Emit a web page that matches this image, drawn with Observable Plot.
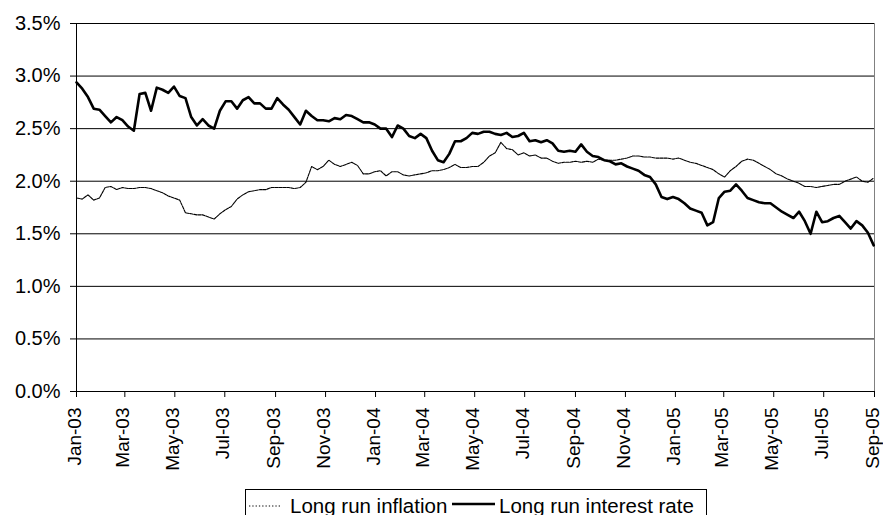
<!DOCTYPE html>
<html>
<head>
<meta charset="utf-8">
<script src="https://cdn.jsdelivr.net/npm/d3@7"></script>
<script src="https://cdn.jsdelivr.net/npm/@observablehq/plot@0.6"></script>
<style>
  body { margin: 0; background: #fff; font-family: "Liberation Sans", Arial, sans-serif; }
  #wrap { position: relative; width: 883px; height: 515px; overflow: hidden; }
  #legend { position: absolute; left: 245px; top: 489px; }
</style>
</head>
<body>
<div id="wrap">
  <div id="chart"></div>
  <svg id="legend" width="462" height="40"></svg>
</div>
<script>
// Weekly readings, first observation 2003-01-01, one every 7 days
const startDate = "2003-01-01";
const stepDays = 7;

// Long run inflation (%)
const inflation = [
  1.84, 1.83, 1.87, 1.82, 1.84, 1.94, 1.95, 1.92, 1.94, 1.93,
  1.93, 1.94, 1.94, 1.93, 1.91, 1.89, 1.86, 1.84, 1.82, 1.70,
  1.69, 1.68, 1.68, 1.66, 1.64, 1.69, 1.73, 1.76, 1.83, 1.87,
  1.90, 1.91, 1.92, 1.92, 1.94, 1.94, 1.94, 1.94, 1.93, 1.94,
  1.99, 2.14, 2.11, 2.14, 2.20, 2.16, 2.14, 2.16, 2.18, 2.15,
  2.07, 2.07, 2.09, 2.10, 2.05, 2.09, 2.09, 2.06, 2.05, 2.06,
  2.07, 2.08, 2.10, 2.10, 2.11, 2.13, 2.16, 2.13, 2.13, 2.14,
  2.14, 2.18, 2.24, 2.27, 2.37, 2.31, 2.30, 2.25, 2.27, 2.24,
  2.25, 2.22, 2.22, 2.19, 2.17, 2.18, 2.18, 2.19, 2.18, 2.19,
  2.18, 2.21, 2.20, 2.20, 2.20, 2.21, 2.22, 2.24, 2.24, 2.23,
  2.23, 2.22, 2.22, 2.22, 2.21, 2.22, 2.20, 2.18, 2.17, 2.15,
  2.13, 2.11, 2.07, 2.04, 2.10, 2.14, 2.19, 2.21, 2.20, 2.17,
  2.14, 2.11, 2.07, 2.05, 2.02, 2.00, 1.98, 1.95, 1.95, 1.94,
  1.95, 1.96, 1.97, 1.97, 2.00, 2.02, 2.04, 2.00, 1.99, 2.03
];

// Long run interest rate (%)
const interest = [
  2.94, 2.88, 2.80, 2.69, 2.68, 2.62, 2.56, 2.61, 2.58, 2.52,
  2.48, 2.83, 2.84, 2.67, 2.89, 2.87, 2.84, 2.90, 2.81, 2.79,
  2.61, 2.53, 2.59, 2.53, 2.50, 2.67, 2.76, 2.76, 2.69, 2.77,
  2.80, 2.74, 2.74, 2.69, 2.69, 2.79, 2.73, 2.68, 2.61, 2.54,
  2.67, 2.62, 2.58, 2.58, 2.57, 2.60, 2.59, 2.63, 2.62, 2.59,
  2.56, 2.56, 2.54, 2.50, 2.50, 2.42, 2.53, 2.50, 2.43, 2.41,
  2.45, 2.41, 2.29, 2.20, 2.18, 2.26, 2.38, 2.38, 2.41, 2.46,
  2.45, 2.47, 2.47, 2.45, 2.44, 2.46, 2.42, 2.43, 2.46, 2.38,
  2.39, 2.37, 2.39, 2.36, 2.29, 2.28, 2.29, 2.28, 2.35, 2.28,
  2.24, 2.23, 2.20, 2.19, 2.16, 2.17, 2.14, 2.12, 2.10, 2.06,
  2.04, 1.97, 1.85, 1.83, 1.85, 1.83, 1.79, 1.74, 1.72, 1.70,
  1.58, 1.61, 1.84, 1.90, 1.91, 1.97, 1.91, 1.84, 1.82, 1.80,
  1.79, 1.79, 1.75, 1.71, 1.68, 1.65, 1.71, 1.62, 1.50, 1.71,
  1.61, 1.62, 1.65, 1.67, 1.61, 1.55, 1.62, 1.58, 1.51, 1.39
];

// x-axis tick months
const xTicks = [
  "2003-01-01", "2003-03-01", "2003-05-01", "2003-07-01", "2003-09-01",
  "2003-11-01", "2004-01-01", "2004-03-01", "2004-05-01", "2004-07-01",
  "2004-09-01", "2004-11-01", "2005-01-01", "2005-03-01", "2005-05-01",
  "2005-07-01", "2005-09-01"
];
// y-axis ticks (%)
const yTicks = [0, 0.5, 1.0, 1.5, 2.0, 2.5, 3.0, 3.5];

const seriesNames = ["Long run inflation", "Long run interest rate"];

const start = new Date(startDate + "T00:00:00Z");
const dates = inflation.map((_, i) => d3.utcDay.offset(start, i * stepDays));
const infRows = inflation.map((v, i) => ({date: dates[i], value: v}));
const intRows = interest.map((v, i) => ({date: dates[i], value: v}));
const tickDates = xTicks.map(d => new Date(d + "T00:00:00Z"));
const xDomain = [tickDates[0], tickDates[tickDates.length - 1]];
const fmtMonth = d3.utcFormat("%b-%y");

const chart = Plot.plot({
  width: 883,
  height: 484,
  marginLeft: 76,
  marginRight: 9,
  marginTop: 23,
  marginBottom: 93,
  style: {fontFamily: "'Liberation Sans', Arial, sans-serif", color: "#000", background: "#fff", overflow: "visible"},
  x: {type: "utc", domain: xDomain},
  y: {domain: [0, 3.5]},
  marks: [
    Plot.ruleY(yTicks, {stroke: "#000", strokeWidth: 1}),
    Plot.ruleX([xDomain[1]], {stroke: "#808080", strokeWidth: 1}),
    Plot.ruleX([xDomain[0]], {stroke: "#000", strokeWidth: 1}),
    Plot.axisY({ticks: yTicks, tickFormat: d => d.toFixed(1) + "%", tickSize: 6, tickPadding: 10, label: null, fontSize: 20}),
    Plot.axisX({ticks: tickDates, tickSize: 6, tickFormat: () => "", label: null}),
    Plot.axisX({ticks: tickDates, tickFormat: fmtMonth, tickRotate: -90, tickSize: 0, tickPadding: 16, label: null, fontSize: 19, dx: -1.5}),
    Plot.line(infRows, {x: "date", y: "value", stroke: "#000", strokeWidth: 1.1, strokeDasharray: "3,1"}),
    Plot.line(intRows, {x: "date", y: "value", stroke: "#000", strokeWidth: 2.6, strokeLinejoin: "round"})
  ]
});
document.getElementById("chart").appendChild(chart);

// Legend below the chart
const lg = d3.select("#legend");
lg.append("rect").attr("x", 0.5).attr("y", 0.5).attr("width", 461).attr("height", 45)
  .attr("fill", "#fff").attr("stroke", "#000");
lg.append("line").attr("x1", 4).attr("x2", 37).attr("y1", 17).attr("y2", 17)
  .attr("stroke", "#000").attr("stroke-width", 1).attr("stroke-dasharray", "1.3,2");
lg.append("text").attr("x", 45).attr("y", 23.5).text(seriesNames[0])
  .attr("font-size", 20.5).attr("font-family", "'Liberation Sans', Arial, sans-serif");
lg.append("line").attr("x1", 207).attr("x2", 250).attr("y1", 15).attr("y2", 15)
  .attr("stroke", "#000").attr("stroke-width", 2.6);
lg.append("text").attr("x", 254).attr("y", 23.5).text(seriesNames[1])
  .attr("font-size", 20.5).attr("font-family", "'Liberation Sans', Arial, sans-serif");
</script>
</body>
</html>
